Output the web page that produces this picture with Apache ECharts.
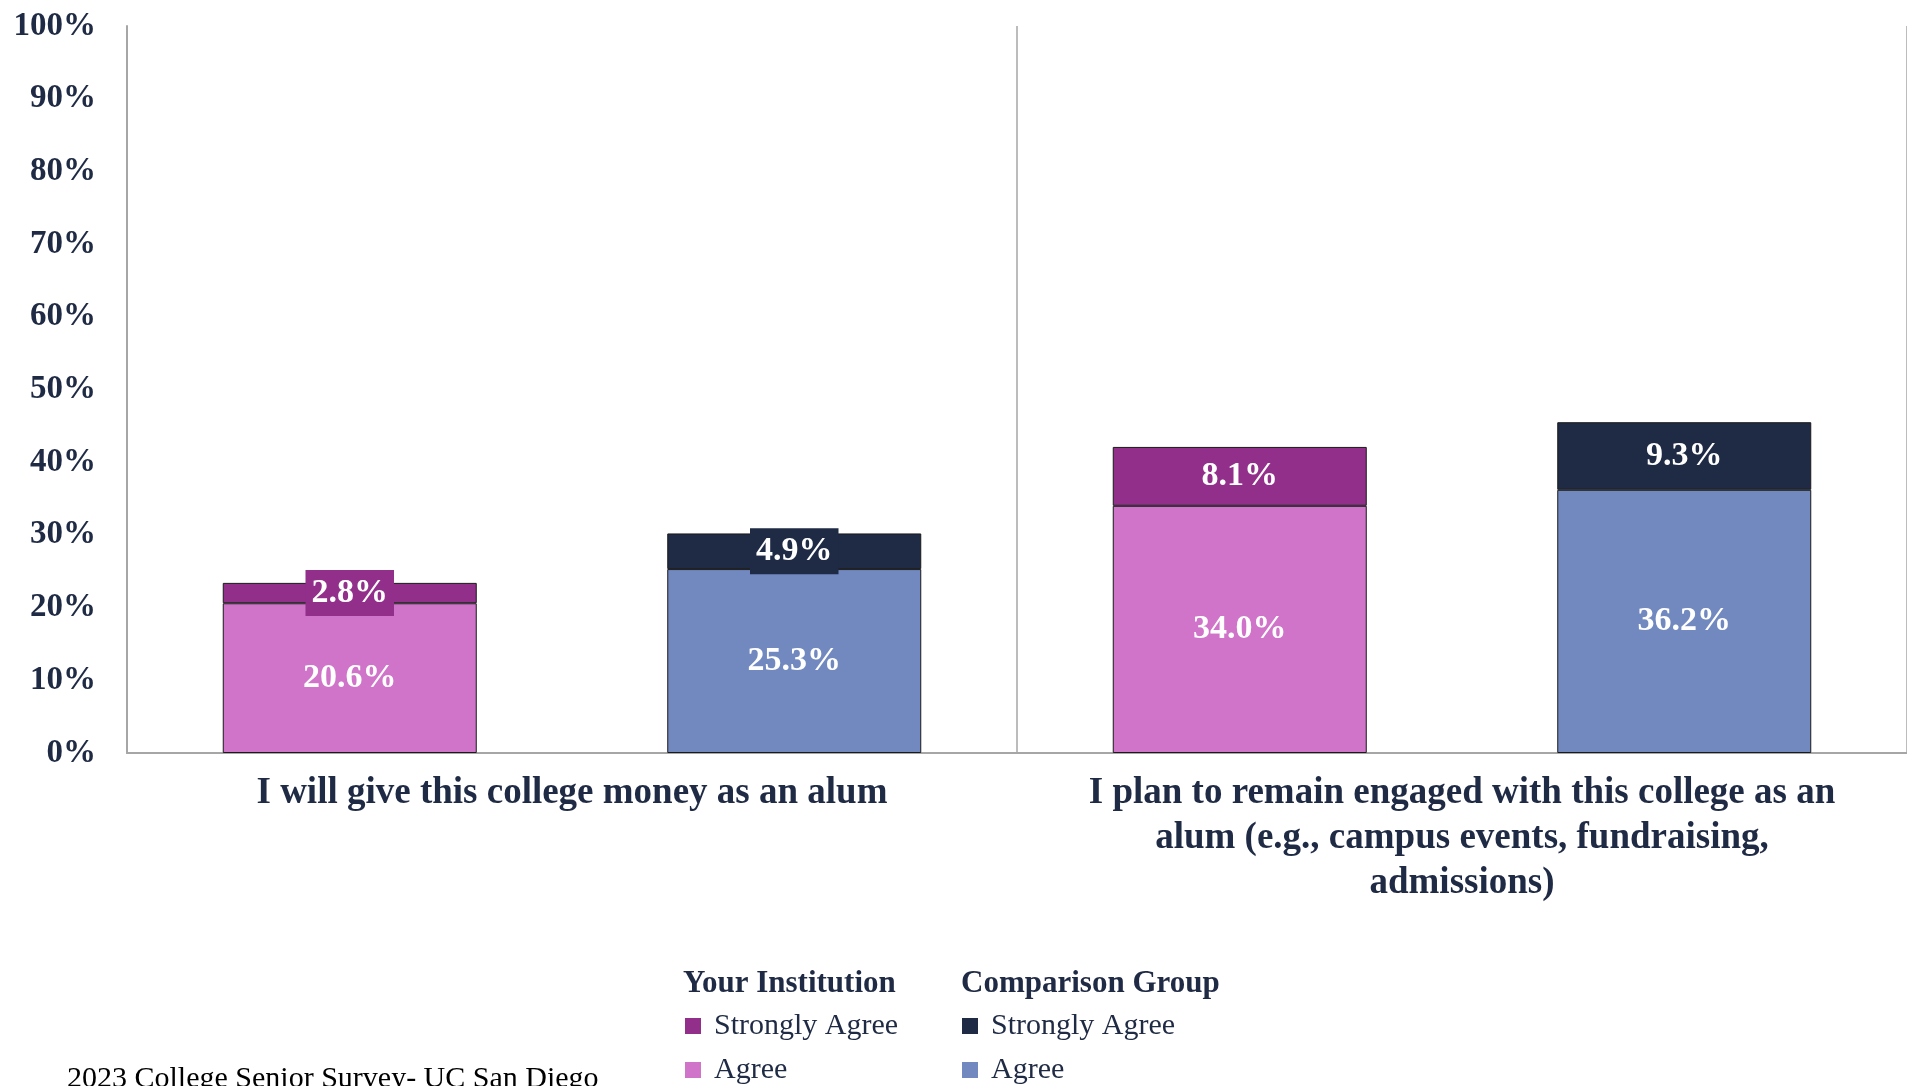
<!DOCTYPE html>
<html>
<head>
<meta charset="utf-8">
<title>College Senior Survey</title>
<script src="https://cdn.jsdelivr.net/npm/echarts@6/dist/echarts.min.js"></script>
<style>
html, body { margin: 0; padding: 0; background: #fff; }
#chart { width: 1907px; height: 1086px; }
</style>
</head>
<body>
<div id="chart"></div>
<script>
// categories and values (percent)
var categories = [
  'I will give this college money as an alum',
  'I plan to remain engaged with this college as an\nalum (e.g., campus events, fundraising,\nadmissions)'
];
var instAgree = [20.6, 34.0];
var instStrongly = [2.8, 8.1];
var compAgree = [25.3, 36.2];
var compStrongly = [4.9, 9.3];
var yTicks = [0, 10, 20, 30, 40, 50, 60, 70, 80, 90, 100];

var navy = '#1f2a44';
var font = '"Liberation Serif", "DejaVu Serif", serif';
var colors = {
  instAgree: '#cf74c8',
  instStrongly: '#922f8a',
  compAgree: '#7289c0',
  compStrongly: '#1f2a45'
};

var chart = echarts.init(document.getElementById('chart'));

function fmt(p) {
  return p.value.toFixed(1) + '%';
}

// thin top segments in the first group get a filled label box, like the original
function topData(vals, color) {
  return vals.map(function (v, i) {
    if (i === 0) {
      return {
        value: v,
        label: { backgroundColor: color, padding: [7, 6, 5, 6] }
      };
    }
    return v;
  });
}

function barSeries(name, stack, data, color) {
  return {
    name: name,
    type: 'bar',
    stack: stack,
    data: data,
    barWidth: 254,
    barGap: '75%',
    itemStyle: { color: color, borderColor: '#1a1a1a', borderWidth: 1 },
    label: {
      show: true,
      position: 'inside',
      formatter: fmt,
      color: '#fff',
      fontFamily: font,
      fontWeight: 'bold',
      fontSize: 34
    },
    emphasis: { disabled: true }
  };
}

var legendText = {
  color: navy,
  fontFamily: font,
  fontSize: 30,
  lineHeight: 30,
  padding: [0, 0, 0, 8]
};

function makeLegend(prefix, left) {
  return {
    data: [prefix + '|Strongly Agree', prefix + '|Agree'],
    orient: 'vertical',
    left: left,
    top: 1011,
    height: 150,
    padding: 0,
    itemWidth: 16,
    itemHeight: 16,
    itemGap: 14,
    icon: 'rect',
    itemStyle: { borderWidth: 0 },
    formatter: function (n) { return n.split('|')[1]; },
    textStyle: legendText
  };
}

chart.setOption({
  animation: false,
  grid: { left: 127, right: -2, top: 26, bottom: 333 },
  xAxis: {
    type: 'category',
    data: categories,
    axisLine: { lineStyle: { color: '#a6a6a6', width: 2 } },
    axisTick: { show: false },
    splitLine: { show: true, lineStyle: { color: '#a6a6a6', width: 1.5 } },
    axisLabel: {
      color: navy,
      fontFamily: font,
      fontWeight: 'bold',
      fontSize: 37,
      lineHeight: 45,
      margin: 18,
      interval: 0
    }
  },
  yAxis: {
    type: 'value',
    min: yTicks[0],
    max: yTicks[yTicks.length - 1],
    interval: 10,
    axisLine: { show: true, lineStyle: { color: '#a6a6a6', width: 2 } },
    axisTick: { show: false },
    splitLine: { show: false },
    axisLabel: {
      formatter: '{value}%',
      color: navy,
      fontFamily: font,
      fontWeight: 'bold',
      fontSize: 33,
      margin: 31
    }
  },
  legend: [makeLegend('inst', 685), makeLegend('comp', 962)],
  graphic: [
    {
      type: 'text', left: 683, top: 968,
      style: { text: 'Your Institution', fill: navy, font: 'bold 31px ' + font }
    },
    {
      type: 'text', left: 961, top: 968,
      style: { text: 'Comparison Group', fill: navy, font: 'bold 31px ' + font }
    },
    {
      type: 'text', left: 67, top: 1064,
      style: { text: '2023 College Senior Survey- UC San Diego', fill: '#000', font: '30px ' + font }
    }
  ],
  series: [
    barSeries('inst|Agree', 'inst', instAgree, colors.instAgree),
    barSeries('inst|Strongly Agree', 'inst', topData(instStrongly, colors.instStrongly), colors.instStrongly),
    barSeries('comp|Agree', 'comp', compAgree, colors.compAgree),
    barSeries('comp|Strongly Agree', 'comp', topData(compStrongly, colors.compStrongly), colors.compStrongly)
  ]
});
</script>
</body>
</html>
